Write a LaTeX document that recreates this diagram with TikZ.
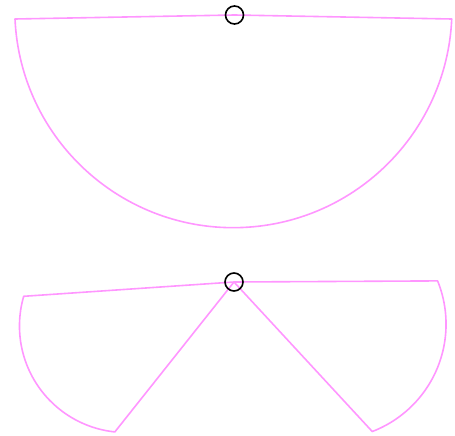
\documentclass[tikz,border=0pt]{standalone}
\definecolor{sectorpink}{RGB}{255,150,255}
\tikzset{
  sector/.style={draw=sectorpink,line width=1.6pt,line join=round},
  pivot/.style={draw=black,circle,line width=1.6pt,minimum size=18pt,inner sep=0pt}
}
\begin{document}
\begin{tikzpicture}[x=1pt,y=-1pt]
\useasboundingbox (0,0) rectangle (455,436);
% ---------- upper sector ----------
\coordinate (topPivot) at (234.5,15);
\coordinate (topLeft) at (15,19);
\draw[sector] (topPivot) -- (topLeft) arc[start angle=177.4,end angle=2.6,radius=218.6] -- cycle;
\node[pivot] (topHinge) at (topPivot) {};
% ---------- lower sectors ----------
\coordinate (botPivot) at (234,282);
\coordinate (leftTop) at (23.7,296.3);
\coordinate (rightTop) at (437.6,280.9);
\draw[sector] (botPivot) -- (leftTop) arc[start angle=196.2,end angle=96,radius=106.5] -- cycle;
\draw[sector] (botPivot) -- (rightTop) arc[start angle=-22.1,end angle=69,radius=115] -- cycle;
\node[pivot] (botHinge) at (botPivot) {};
\end{tikzpicture}
\end{document}
